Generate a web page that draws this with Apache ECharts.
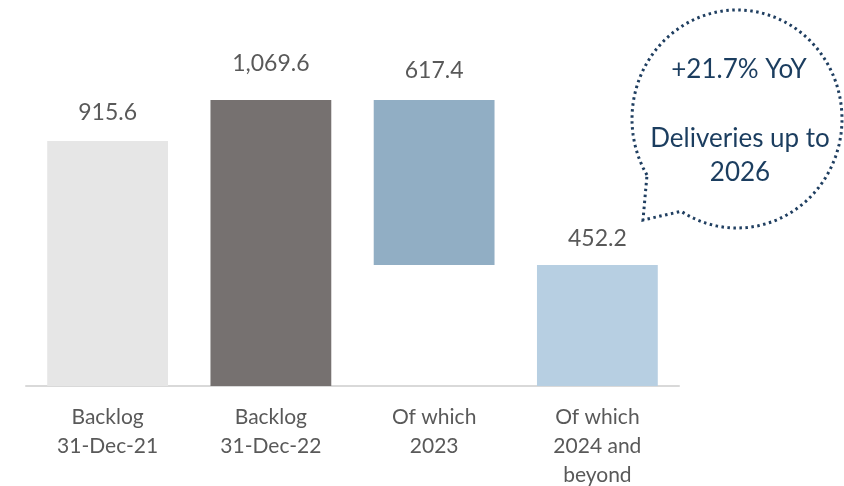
<!DOCTYPE html>
<html><head><meta charset="utf-8">
<script src="https://cdn.jsdelivr.net/npm/echarts@6/dist/echarts.min.js"></script>
<style>html,body{margin:0;padding:0;background:#fff}#c{width:844px;height:486px}</style>
</head><body><div id="c"></div>
<script>
const categories = ['Backlog\n31-Dec-21', 'Backlog\n31-Dec-22', 'Of which\n2023', 'Of which\n2024 and\nbeyond'];
const baseValues = [0, 0, 452.2, 0];
const barValues = [915.6, 1069.6, 617.4, 452.2];
const calloutLines = ['+21.7% YoY', 'Deliveries up to', '2026'];

const barColors = ['#E6E6E6', '#767170', '#91AEC4', '#B7CFE2'];
const labelDist = [17, 25, 18, 15];
const FONT = 'Lato';
const fmt = v => v.toLocaleString('en-US', {minimumFractionDigits: 1, maximumFractionDigits: 1});

// speech bubble outline (decoration)
const cx = 737, cy = 119, rx = 105, ry = 109;
const a0 = Math.atan2((175 - cy) / ry, (647 - cx) / rx);
const a1 = Math.atan2((210 - cy) / ry, (682 - cx) / rx);
const pts = [];
let start = a0, end = a1;
while (end < start) end += Math.PI * 2;
const N = 160;
for (let k = 0; k <= N; k++) {
  const t = start + (end - start) * k / N;
  pts.push([cx + rx * Math.cos(t), cy + ry * Math.sin(t)]);
}
pts.push([643, 220]);
pts.push([647, 175]);

const chart = echarts.init(document.getElementById('c'));
chart.setOption({
  animation: false,
  textStyle: {fontFamily: FONT},
  grid: {left: 26, right: 165, top: 65, bottom: 100, containLabel: false, outerBoundsMode: 'none'},
  xAxis: {
    type: 'category', data: categories,
    axisLine: {lineStyle: {color: '#D9D9D9', width: 2}},
    axisTick: {show: false},
    axisLabel: {color: '#595959', fontSize: 21, lineHeight: 29, margin: 17, fontFamily: FONT, interval: 0}
  },
  yAxis: {type: 'value', min: 0, max: 1200, show: false, splitLine: {show: false}},
  series: [
    {type: 'bar', stack: 's', barWidth: '74%', itemStyle: {color: 'transparent'}, data: baseValues, silent: true},
    {type: 'bar', stack: 's', barWidth: '74%',
     data: barValues.map((v, i) => ({
       value: v,
       itemStyle: {color: barColors[i]},
       label: {show: true, position: 'top', distance: labelDist[i], formatter: p => fmt(p.value),
               color: '#595959', fontSize: 23, fontFamily: FONT}
     }))}
  ],
  graphic: [
    {type: 'polyline', shape: {points: pts},
     style: {fill: 'none', stroke: '#1F3E60', lineWidth: 3, lineDash: [2.5, 3.5]}},
    {type: 'text', style: {text: calloutLines[0], x: 739, y: 70, align: 'center', verticalAlign: 'middle', fill: '#1B3D5F', font: '26px Lato'}},
    {type: 'text', style: {text: calloutLines[1], x: 740, y: 139, align: 'center', verticalAlign: 'middle', fill: '#1B3D5F', font: '26px Lato'}},
    {type: 'text', style: {text: calloutLines[2], x: 740, y: 173, align: 'center', verticalAlign: 'middle', fill: '#1B3D5F', font: '26px Lato'}}
  ]
});
</script></body></html>
